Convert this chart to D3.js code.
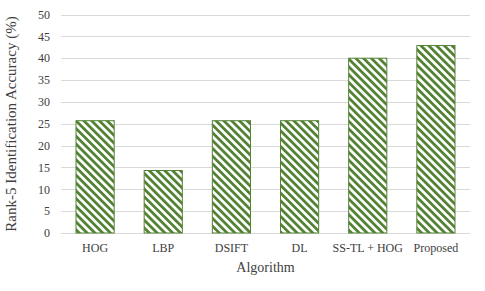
<!DOCTYPE html>
<html>
<head>
<meta charset="utf-8">
<script src="https://cdn.jsdelivr.net/npm/d3@7"></script>
<style>
  body { margin: 0; background: #fff; }
  text { font-family: "Liberation Serif", "DejaVu Serif", serif; fill: #404040; }
</style>
</head>
<body>
<div id="chart"></div>
<script>
var algorithms = ["HOG", "LBP", "DSIFT", "DL", "SS-TL + HOG", "Proposed"];
var accuracy = [25.7, 14.3, 25.7, 25.7, 40.0, 42.9];
var yTicks = [0, 5, 10, 15, 20, 25, 30, 35, 40, 45, 50];

var width = 485, height = 291;
var margin = {top: 15, right: 15, bottom: 58, left: 61};

var svg = d3.select("#chart")
    .append("svg")
    .attr("width", width)
    .attr("height", height);

// hatch pattern for the bars
var defs = svg.append("defs");
var pat = defs.append("pattern")
    .attr("id", "hatch")
    .attr("patternUnits", "userSpaceOnUse")
    .attr("width", 5.5)
    .attr("height", 5.5)
    .attr("patternTransform", "rotate(-45)");
pat.append("rect")
    .attr("width", 5.5)
    .attr("height", 5.5)
    .attr("fill", "#fff");
pat.append("rect")
    .attr("width", 2.8)
    .attr("height", 5.5)
    .attr("fill", "#548235");

var x = d3.scaleBand()
    .domain(algorithms)
    .range([margin.left, width - margin.right])
    .paddingInner(0.44)
    .paddingOuter(0.22);

var y = d3.scaleLinear()
    .domain([0, 50])
    .range([233, 14.5]);

// gridlines
svg.append("g")
    .selectAll("line")
    .data(yTicks)
    .enter()
    .append("line")
    .attr("x1", margin.left)
    .attr("x2", width - margin.right)
    .attr("y1", function(d){ return Math.round(y(d)) + 0.5; })
    .attr("y2", function(d){ return Math.round(y(d)) + 0.5; })
    .style("stroke", "#d9d9d9")
    .style("stroke-width", 1);

// y tick labels
svg.append("g")
    .selectAll("text")
    .data(yTicks)
    .enter()
    .append("text")
    .attr("x", 50)
    .attr("y", function(d){ return y(d); })
    .attr("dy", "0.35em")
    .attr("text-anchor", "end")
    .attr("font-size", "12px")
    .text(function(d){ return d; });

// bars
svg.append("g")
    .selectAll("rect")
    .data(accuracy)
    .enter()
    .append("rect")
    .attr("x", function(d, i){ return x(algorithms[i]); })
    .attr("y", function(d){ return y(d); })
    .attr("width", x.bandwidth())
    .attr("height", function(d){ return y(0) - y(d); })
    .style("fill", "url(#hatch)")
    .style("stroke", "#548235")
    .style("stroke-width", 1);

// category labels
svg.append("g")
    .selectAll("text")
    .data(algorithms)
    .enter()
    .append("text")
    .attr("x", function(d){ return x(d) + x.bandwidth() / 2; })
    .attr("y", 252)
    .attr("text-anchor", "middle")
    .attr("font-size", "12px")
    .text(function(d){ return d; });

// axis titles
svg.append("text")
    .attr("x", (margin.left + width - margin.right) / 2)
    .attr("y", 272)
    .attr("text-anchor", "middle")
    .attr("font-size", "14px")
    .text("Algorithm");

svg.append("text")
    .attr("transform", "translate(16," + 124 + ") rotate(-90)")
    .attr("text-anchor", "middle")
    .attr("font-size", "15px")
    .text("Rank-5 Identification Accuracy (%)");
</script>
</body>
</html>
